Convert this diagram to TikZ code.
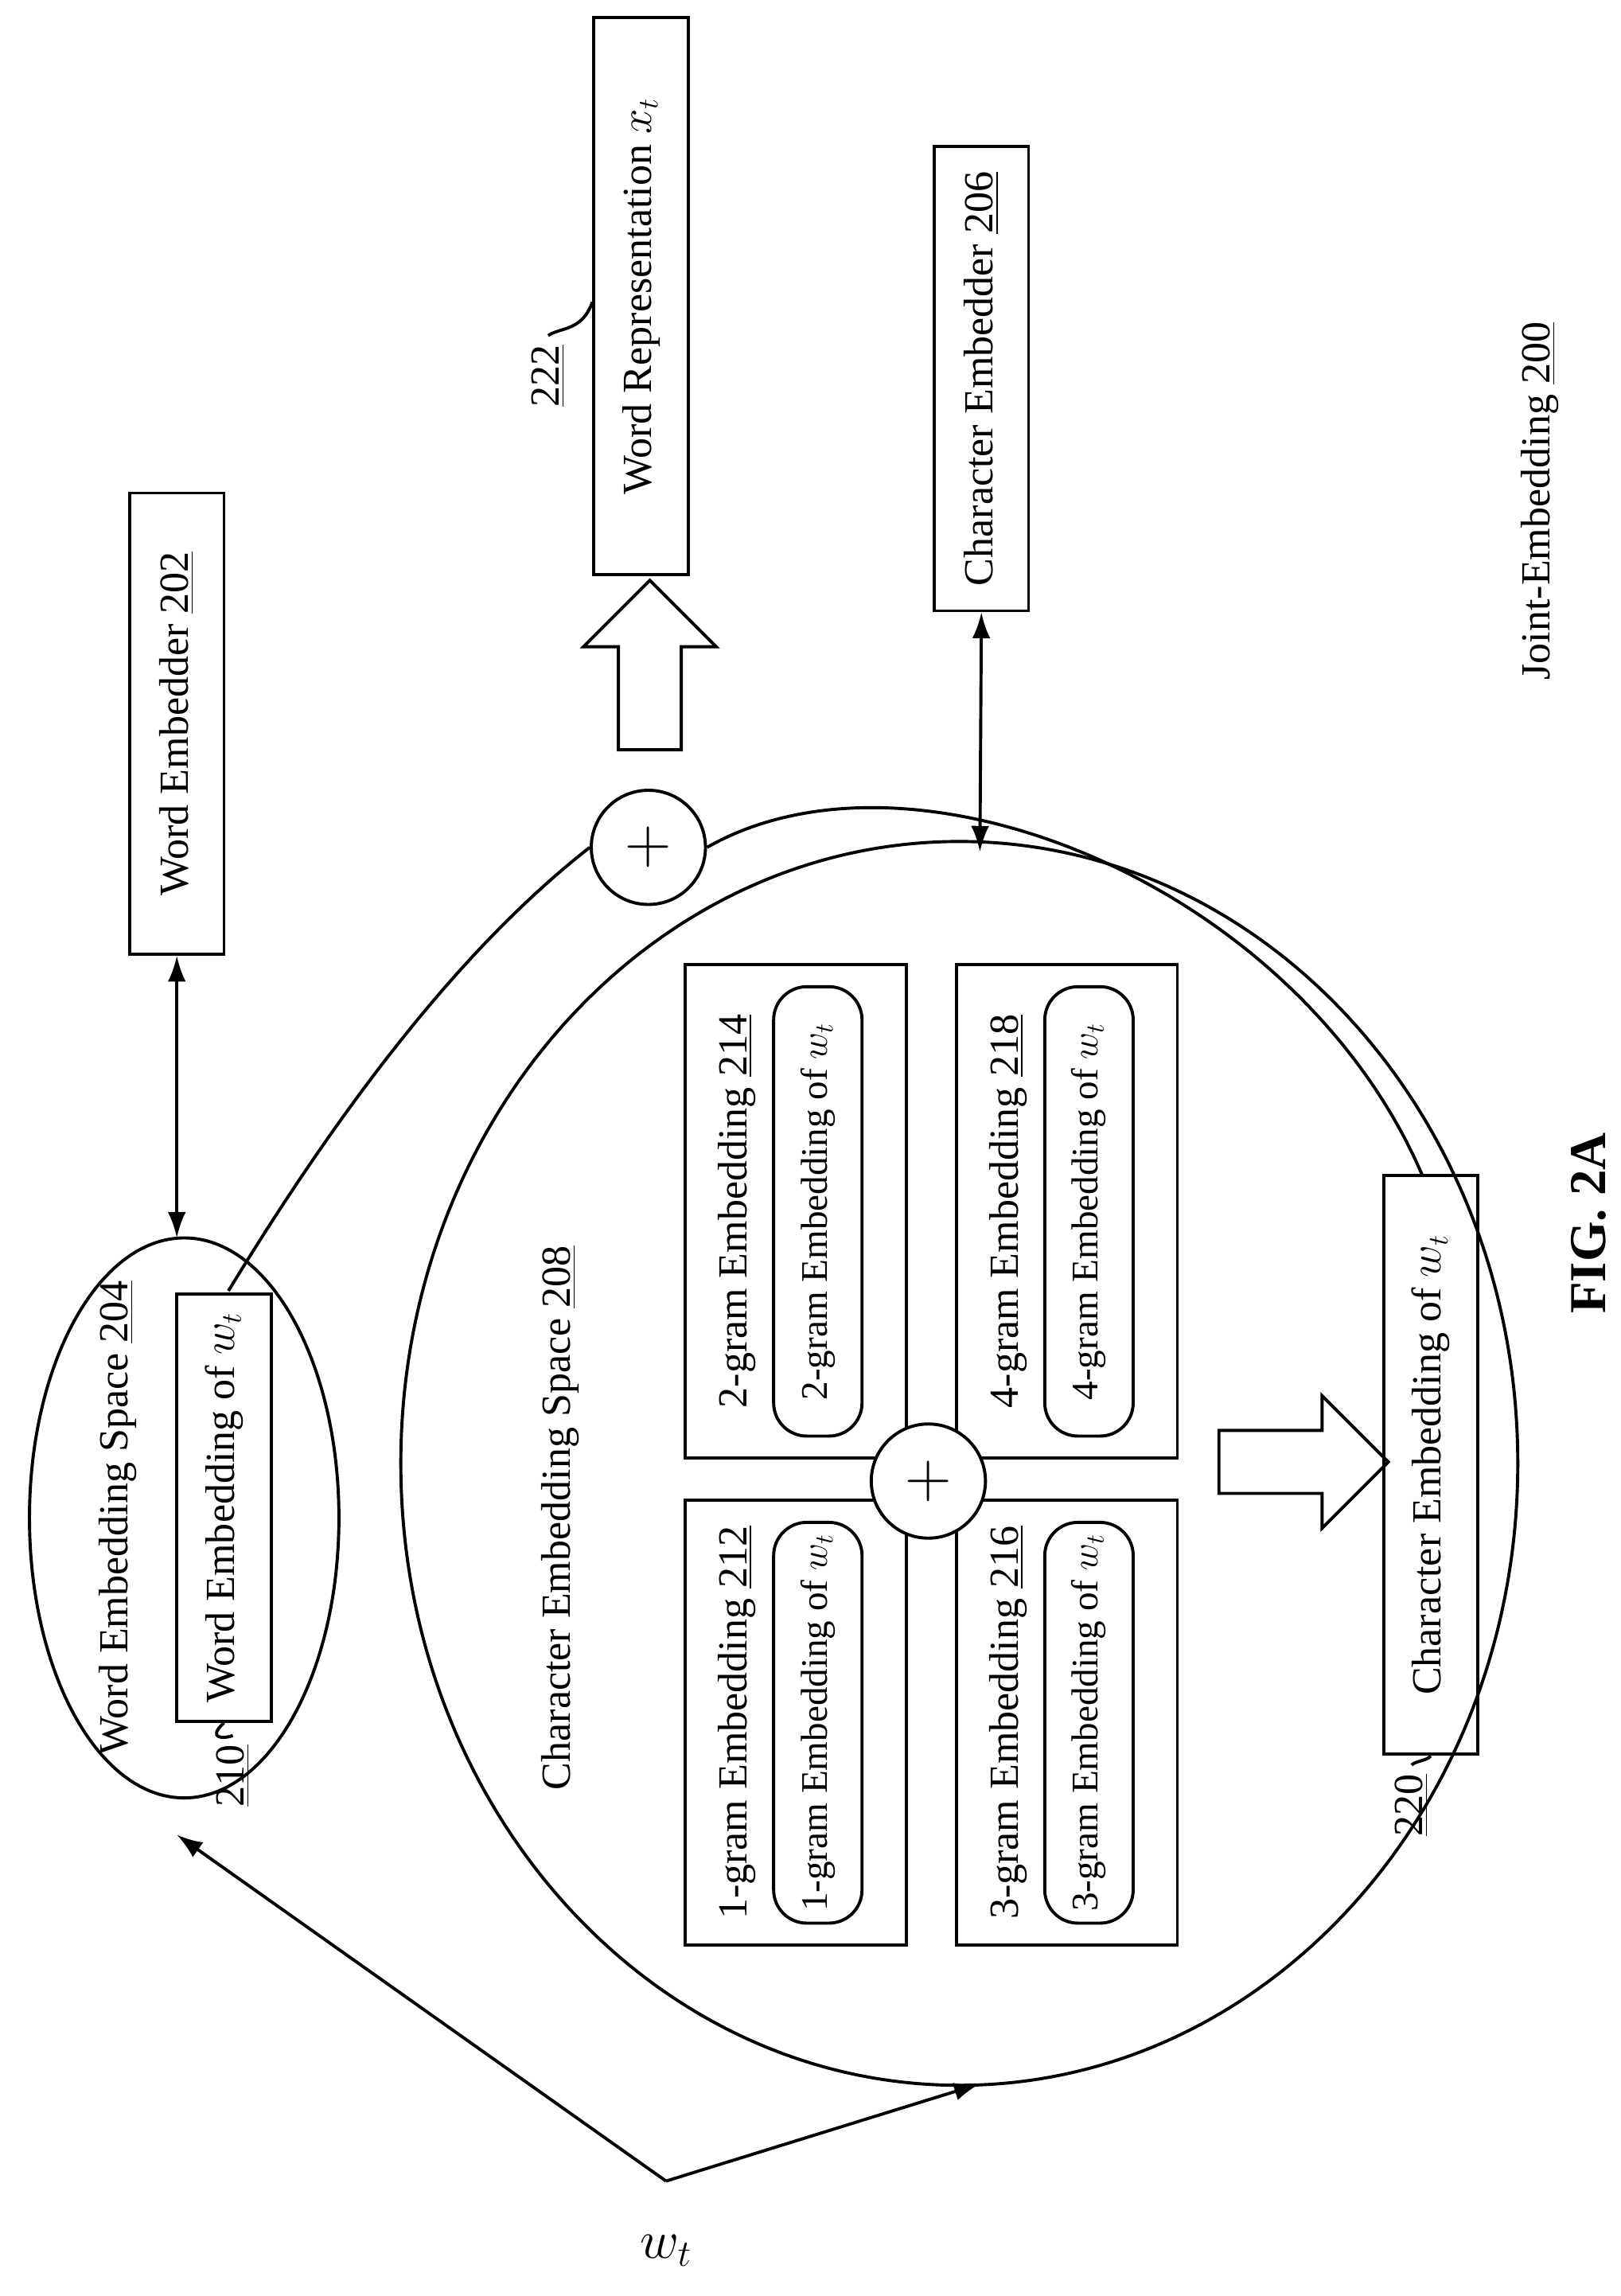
\documentclass[tikz,border=0pt]{standalone}
\usepackage{fontspec}
\setmainfont{Liberation Serif}
\usetikzlibrary{shapes.arrows,arrows.meta}
\tikzset{
  box/.style={draw, line width=1.2pt, rectangle, minimum height=1.28cm, inner sep=0pt},
  rbox/.style={draw, line width=1.2pt, rounded corners=0.45cm, minimum height=1.2cm, inner sep=2pt},
  txt/.style={rotate=90, font=\fontsize{16}{19}\selectfont},
  plus/.style={draw, circle, line width=1.2pt, minimum size=1.55cm, font=\fontsize{30}{30}\selectfont},
  conn/.style={line width=1.2pt},
  tip/.style={-{Latex[length=10pt,width=7pt]}}
}
\begin{document}
\begin{tikzpicture}[x=0.02cm, y=-0.02cm]
		\useasboundingbox (0,0) rectangle (1100,1558);
		% top boxes
		\node[box, minimum width=6.26cm, txt] (wemb) at (120,491) {Word Embedder \underline{202}};
		\node[box, minimum width=7.56cm, txt] (wrep) at (435,201) {Word Representation $x_t$};
		\node[box, minimum width=6.3cm, txt] (cemb) at (666,257) {Character Embedder \underline{206}};
		\node[txt] (joint) at (1045,340) {Joint-Embedding \underline{200}};
		\node[txt] (l222) at (372,255) {\underline{222}};
		\draw[conn] (l222.east) .. controls (380,222) and (395,225) .. (wrep.north west|-0,205);
		\node[single arrow, draw, line width=1.2pt, rotate=90, minimum height=2.3cm, minimum width=1.8cm, single arrow head extend=0.3cm, inner sep=0.25cm] (outarr) at (441,462) {};
		\node[plus] (psum) at (440,575) {$+$};
		% word embedding space
		\draw[conn] (125,1030) ellipse (105 and 190);
		\node[txt] (wspace) at (80,1030) {Word Embedding Space \underline{204}};
		\node[box, minimum width=5.8cm, txt] (wvec) at (152,1023) {Word Embedding of $w_t$};
		\node[txt] (l210) at (158,1205) {\underline{210}};
		% character embedding space
		\draw[conn] (651,993) ellipse (379 and 422);
		\node[txt] (cspace) at (380,1030) {Character Embedding Space \underline{208}};
		\foreach \n/\x/\y/\h/\num in {1/540/1169/6.04/212, 2/540/822/6.7/214, 3/724/1169/6.04/216, 4/724/822/6.7/218} {
			\node[draw, line width=1.2pt, minimum width=3cm, minimum height=\h cm] (g\n) at (\x,\y) {};
			\node[txt] at (\x-40,\y) {\n-gram Embedding \underline{\num}};
			\node[rbox, minimum width=\h cm-0.6cm, txt, font=\fontsize{14.5}{17}\selectfont] (r\n) at (\x+15,\y) {\n-gram Embedding of $w_t$};
		}
		\node[plus, fill=white] (gsum) at (630,1005) {$+$};
		\node[single arrow, draw, line width=1.2pt, minimum height=2.3cm, minimum width=1.8cm, single arrow head extend=0.3cm, inner sep=0.25cm] (charr) at (874,992) {};
		\node[box, minimum width=7.86cm, txt] (cvec) at (971,994) {Character Embedding of $w_t$};
		\node[txt] (l220) at (958,1225) {\underline{220}};
		% joint curve
		\draw[conn] (155,876) .. controls (250,720) and (330,630) .. (psum.west);
		\draw[conn] (psum.east) .. controls (620,495) and (880,600) .. (965,797);
		% connectors
		\draw[conn, {Latex[length=10pt,width=7pt]}-{Latex[length=10pt,width=7pt]}] (wemb.west) -- (120,840);
		\draw[conn, {Latex[length=10pt,width=7pt]}-{Latex[length=10pt,width=7pt]}] (cemb.west) -- (665,578);
		\node[font=\fontsize{22}{22}\selectfont] (wt) at (452,1527) {$w_t$};
		\coordinate (split) at (452,1480);
		\draw[conn, tip] (split) -- (120,1245);
		\draw[conn, tip] (split) -- (665,1414);
		\node[txt, font=\fontsize{20}{24}\selectfont\bfseries] (fig) at (1078,830) {FIG. 2A};
		\draw[conn] (l210.east) .. controls (152,1180) and (140,1180) .. (wvec.west);
		\draw[conn] (l220.east) .. controls (960,1195) and (968,1195) .. (cvec.west);
\end{tikzpicture}
\end{document}
